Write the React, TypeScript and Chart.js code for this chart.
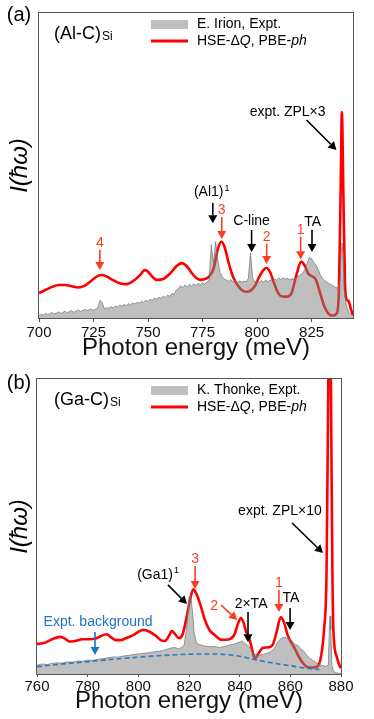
import React, { useEffect, useRef } from "react";
import Chart from "chart.js/auto";

const FONT = "'Liberation Sans', Arial, sans-serif";
const RED = "#ff0000";
const NOTE_RED = "#ff3b1d";
const BLUE = "#1f74c4";
const FRAME = "#555555";

// ---------------- Panel (a): (Al-C)Si ----------------
const aExptEnergy = [
  700, 701, 702, 703, 704, 705, 706, 707, 708, 709, 710, 711, 712, 713, 714, 715, 716, 717, 718, 719,
  720, 721, 722, 723, 724, 725, 726, 727, 728, 729, 730, 731, 732, 733, 734, 735, 736, 737, 738, 739,
  740, 741, 742, 743, 744, 745, 746, 747, 748, 749, 750, 751, 752, 753, 754, 755, 756, 757, 758, 759,
  760, 761, 762, 763, 764, 765, 766, 767, 768, 769, 770, 771, 772, 773, 774, 775, 776, 777, 778, 779,
  780, 781, 782, 783, 784, 785, 786, 787, 788, 789, 790, 791, 792, 793, 794, 795, 796, 797, 798, 799,
  800, 801, 802, 803, 804, 805, 806, 807, 808, 809, 810, 811, 812, 813, 814, 815, 816, 817, 818, 819,
  820, 821, 822, 823, 824, 825, 826, 827, 828, 829, 830, 831, 832, 833, 834, 835, 836, 837, 838, 838.5,
  839, 839.5, 840, 841, 842, 843, 844,
];
const aExptIntensity = [
  0.008, 0.012, 0.010, 0.015, 0.011, 0.014, 0.018, 0.013, 0.016, 0.020, 0.015, 0.019, 0.022, 0.017, 0.021, 0.024, 0.019, 0.023, 0.026, 0.021,
  0.025, 0.028, 0.024, 0.027, 0.030, 0.025, 0.029, 0.034, 0.058, 0.050, 0.030, 0.034, 0.031, 0.037, 0.033, 0.039, 0.036, 0.042, 0.038, 0.044,
  0.040, 0.047, 0.043, 0.049, 0.046, 0.052, 0.048, 0.055, 0.051, 0.058, 0.054, 0.062, 0.057, 0.065, 0.061, 0.068, 0.064, 0.072, 0.067, 0.075,
  0.071, 0.080, 0.078, 0.092, 0.098, 0.105, 0.100, 0.108, 0.102, 0.110, 0.104, 0.112, 0.106, 0.114, 0.108, 0.116, 0.110, 0.118, 0.125, 0.240,
  0.180, 0.250, 0.190, 0.150, 0.135, 0.128, 0.124, 0.120, 0.126, 0.118, 0.124, 0.116, 0.122, 0.117, 0.121, 0.118, 0.130, 0.213, 0.130, 0.118,
  0.122, 0.117, 0.123, 0.118, 0.124, 0.119, 0.125, 0.121, 0.128, 0.124, 0.131, 0.126, 0.132, 0.127, 0.130, 0.125, 0.129, 0.126, 0.132, 0.138,
  0.142, 0.148, 0.160, 0.180, 0.198, 0.195, 0.182, 0.175, 0.160, 0.142, 0.130, 0.122, 0.118, 0.112, 0.110, 0.105, 0.100, 0.098, 0.120, 0.200,
  0.246, 0.200, 0.090, 0.040, 0.020, 0.012, 0.008,
];
const aCalcEnergy = [
  700, 703, 706, 709, 712, 715, 718, 721, 724, 727, 729, 731, 734, 737, 740, 743, 746, 748.5, 750, 752,
  754, 757, 760, 763, 765.5, 768, 770, 772, 774, 776, 778, 780, 782, 783.5, 785, 787, 789, 791, 793, 795,
  797, 799, 801, 803, 804.4, 806, 808, 810, 812, 814, 816, 818, 820.3, 822, 823.5, 825, 827, 829, 831, 833,
  835, 836.5, 837.5, 838.3, 838.9, 839.6, 840.3, 841, 842, 843, 844,
];
const aCalcIntensity = [
  0.082, 0.092, 0.102, 0.108, 0.108, 0.104, 0.100, 0.106, 0.122, 0.138, 0.141, 0.136, 0.124, 0.114, 0.111, 0.120, 0.138, 0.157, 0.152, 0.135,
  0.125, 0.128, 0.145, 0.170, 0.180, 0.168, 0.148, 0.132, 0.125, 0.128, 0.136, 0.160, 0.225, 0.250, 0.235, 0.180, 0.135, 0.108, 0.092, 0.086,
  0.090, 0.105, 0.135, 0.158, 0.164, 0.150, 0.110, 0.078, 0.070, 0.070, 0.085, 0.140, 0.185, 0.170, 0.145, 0.138, 0.125, 0.080, 0.035, 0.012,
  0.008, 0.015, 0.080, 0.400, 0.675, 0.400, 0.120, 0.062, 0.055, 0.030, 0.010,
];

// ---------------- Panel (b): (Ga-C)Si ----------------
const bExptEnergy = [
  760, 762, 764, 766, 768, 770, 772, 774, 776, 778, 780, 782, 784, 786, 788, 790, 792, 794, 796, 798,
  800, 802, 804, 806, 808, 810, 812, 814, 815, 816, 817, 818, 819, 820, 820.7, 821.5, 822, 823, 824, 826,
  828, 830, 832, 834, 836, 838, 840, 841, 842, 843, 844, 845, 846, 848, 850, 852, 854, 855, 856, 857,
  858, 859, 860, 861, 862, 863, 864, 865, 866, 867, 868, 869, 870, 871, 872, 873, 874, 875, 875.4, 875.7,
  876, 876.4, 877, 878, 880,
];
const bExptIntensity = [
  0.030, 0.034, 0.032, 0.036, 0.038, 0.037, 0.041, 0.040, 0.044, 0.043, 0.047, 0.046, 0.050, 0.052, 0.055, 0.058, 0.057, 0.061, 0.063, 0.066,
  0.068, 0.070, 0.072, 0.075, 0.077, 0.080, 0.086, 0.090, 0.088, 0.085, 0.090, 0.095, 0.150, 0.262, 0.268, 0.200, 0.140, 0.105, 0.100, 0.095,
  0.092, 0.093, 0.090, 0.093, 0.098, 0.102, 0.108, 0.112, 0.104, 0.098, 0.090, 0.075, 0.066, 0.064, 0.068, 0.074, 0.090, 0.108, 0.118, 0.125,
  0.124, 0.120, 0.118, 0.108, 0.100, 0.097, 0.085, 0.080, 0.070, 0.058, 0.052, 0.045, 0.040, 0.034, 0.030, 0.028, 0.026, 0.030, 0.150, 0.197,
  0.150, 0.030, 0.010, 0.004, 0.002,
];
const bCalcEnergy = [
  760, 763, 766, 769, 771, 773, 775, 778, 781, 783, 785, 787.5, 789, 791, 793, 795, 798, 801.8, 804, 807,
  809, 810.5, 812, 813.2, 814.5, 816, 817.5, 819, 820.5, 821.7, 823, 824.3, 826.3, 828, 830, 833, 836, 838, 839.5, 840.5,
  841.5, 842.5, 844, 845, 846, 847.5, 849, 851, 853, 854.5, 856.2, 857.5, 859, 861.5, 864.5, 867, 869, 871, 872.5, 873.3,
  874.3, 875, 875.5, 876, 876.6, 877, 878.3, 879.6, 880,
];
const bCalcIntensity = [
  0.102, 0.106, 0.118, 0.126, 0.120, 0.110, 0.112, 0.118, 0.118, 0.120, 0.128, 0.135, 0.126, 0.115, 0.115, 0.121, 0.132, 0.149, 0.145, 0.129,
  0.114, 0.112, 0.128, 0.146, 0.135, 0.122, 0.135, 0.190, 0.255, 0.287, 0.270, 0.240, 0.183, 0.150, 0.133, 0.116, 0.118, 0.135, 0.175, 0.190,
  0.175, 0.145, 0.115, 0.080, 0.053, 0.070, 0.088, 0.090, 0.098, 0.140, 0.192, 0.175, 0.130, 0.090, 0.042, 0.023, 0.022, 0.028, 0.080, 0.150,
  0.350, 1.000, 1.500, 1.000, 0.350, 0.149, 0.059, 0.025, 0.020,
];
const bBackgroundEnergy = [760, 770, 780, 790, 800, 810, 820, 830, 840, 846, 850, 856, 860, 866, 871.5];
const bBackgroundIntensity = [0.025, 0.034, 0.042, 0.050, 0.057, 0.063, 0.067, 0.068, 0.060, 0.049, 0.042, 0.033, 0.028, 0.020, 0.015];

const aTicks = { min: 700, max: 844, step: 25 };
const bTicks = { min: 760, max: 880, step: 20 };

type Note = { text: string; sup?: string; x: number; y: number; color: string };
type Arrow = { x1: number; y1: number; x2: number; y2: number; color: string };

const aNotes: Note[] = [
  { text: "4", x: 727.9, y: 0.246, color: NOTE_RED },
  { text: "(Al1)", sup: "1", x: 779.2, y: 0.413, color: "#000" },
  { text: "3", x: 783.8, y: 0.354, color: NOTE_RED },
  { text: "C-line", x: 797.5, y: 0.318, color: "#000" },
  { text: "2", x: 804.4, y: 0.266, color: NOTE_RED },
  { text: "1", x: 820.0, y: 0.289, color: NOTE_RED },
  { text: "TA", x: 825.5, y: 0.315, color: "#000" },
  { text: "expt. ZPL×3", x: 814.0, y: 0.675, color: "#000" },
];
const aArrows: Arrow[] = [
  { x1: 727.9, y1: 0.223, x2: 727.9, y2: 0.157, color: NOTE_RED },
  { x1: 779.7, y1: 0.377, x2: 779.7, y2: 0.311, color: "#000" },
  { x1: 783.8, y1: 0.331, x2: 783.8, y2: 0.259, color: NOTE_RED },
  { x1: 797.5, y1: 0.289, x2: 797.5, y2: 0.216, color: "#000" },
  { x1: 804.4, y1: 0.243, x2: 804.4, y2: 0.177, color: NOTE_RED },
  { x1: 820.0, y1: 0.266, x2: 820.0, y2: 0.193, color: NOTE_RED },
  { x1: 825.2, y1: 0.289, x2: 825.2, y2: 0.216, color: "#000" },
  { x1: 822.7, y1: 0.649, x2: 836.4, y2: 0.551, color: "#000" },
];
const bNotes: Note[] = [
  { text: "expt. ZPL×10", x: 855.9, y: 0.553, color: "#000" },
  { text: "(Ga1)", sup: "1", x: 807.8, y: 0.336, color: "#000" },
  { text: "3", x: 822.4, y: 0.39, color: NOTE_RED },
  { text: "2", x: 829.9, y: 0.231, color: NOTE_RED },
  { text: "2×TA", x: 844.5, y: 0.237, color: "#000" },
  { text: "1", x: 855.5, y: 0.308, color: NOTE_RED },
  { text: "TA", x: 860.2, y: 0.258, color: "#000" },
  { text: "Expt. background", x: 784.1, y: 0.176, color: BLUE },
];
const bArrows: Arrow[] = [
  { x1: 860.7, y1: 0.512, x2: 872.9, y2: 0.41, color: "#000" },
  { x1: 811.7, y1: 0.302, x2: 819.2, y2: 0.237, color: "#000" },
  { x1: 822.4, y1: 0.366, x2: 822.4, y2: 0.288, color: NOTE_RED },
  { x1: 832.6, y1: 0.234, x2: 839.0, y2: 0.183, color: NOTE_RED },
  { x1: 843.3, y1: 0.21, x2: 843.3, y2: 0.108, color: "#000" },
  { x1: 855.5, y1: 0.285, x2: 855.5, y2: 0.21, color: NOTE_RED },
  { x1: 859.9, y1: 0.224, x2: 859.9, y2: 0.149, color: "#000" },
  { x1: 782.9, y1: 0.142, x2: 782.9, y2: 0.064, color: BLUE },
];

type Panel = {
  tag: string;
  tagY: number;
  material: string;
  materialY: number;
  legendExpt: string;
  legendY1: number;
  legendY2: number;
  notes: Note[];
  arrows: Arrow[];
};

function drawArrow(ctx: CanvasRenderingContext2D, x1: number, y1: number, x2: number, y2: number, color: string) {
  const ang = Math.atan2(y2 - y1, x2 - x1);
  const hl = 8;
  const hw = 4.5;
  const bx = x2 - hl * Math.cos(ang);
  const by = y2 - hl * Math.sin(ang);
  ctx.save();
  ctx.strokeStyle = color;
  ctx.fillStyle = color;
  ctx.lineWidth = 1.6;
  ctx.beginPath();
  ctx.moveTo(x1, y1);
  ctx.lineTo(bx, by);
  ctx.stroke();
  ctx.beginPath();
  ctx.moveTo(x2, y2);
  ctx.lineTo(bx + hw * Math.sin(ang), by - hw * Math.cos(ang));
  ctx.lineTo(bx - hw * Math.sin(ang), by + hw * Math.cos(ang));
  ctx.closePath();
  ctx.fill();
  ctx.restore();
}

function makeOverlay(p: Panel) {
  return {
    id: "overlay",
    afterDraw(chart: any) {
      const ctx: CanvasRenderingContext2D = chart.ctx;
      const { left, right, top, bottom } = chart.chartArea;
      const xs = chart.scales.x;
      const ys = chart.scales.y;
      ctx.save();
      ctx.strokeStyle = FRAME;
      ctx.lineWidth = 1;
      ctx.strokeRect(left - 0.5, top - 0.5, right - left + 1, bottom - top + 1);

      for (const a of p.arrows) {
        drawArrow(ctx, xs.getPixelForValue(a.x1), ys.getPixelForValue(a.y1), xs.getPixelForValue(a.x2), ys.getPixelForValue(a.y2), a.color);
      }
      ctx.textBaseline = "middle";
      for (const n of p.notes) {
        const px = xs.getPixelForValue(n.x);
        const py = ys.getPixelForValue(n.y);
        ctx.fillStyle = n.color;
        ctx.font = `14px ${FONT}`;
        const w = ctx.measureText(n.text).width;
        let sw = 0;
        if (n.sup) {
          ctx.font = `9px ${FONT}`;
          sw = ctx.measureText(n.sup).width + 1;
        }
        const x0 = px - (w + sw) / 2;
        ctx.font = `14px ${FONT}`;
        ctx.textAlign = "left";
        ctx.fillText(n.text, x0, py);
        if (n.sup) {
          ctx.font = `9px ${FONT}`;
          ctx.fillText(n.sup, x0 + w + 1, py - 4);
        }
      }

      ctx.fillStyle = "#000";
      ctx.textAlign = "center";
      ctx.font = `20px ${FONT}`;
      ctx.fillText(p.tag, 19, p.tagY);

      ctx.textAlign = "left";
      ctx.textBaseline = "alphabetic";
      ctx.font = `18px ${FONT}`;
      const mBase = p.materialY + 6;
      ctx.fillText(p.material, 54, mBase);
      const mw = ctx.measureText(p.material).width;
      ctx.font = `12px ${FONT}`;
      ctx.fillText("Si", 54 + mw + 1, mBase + 1);

      ctx.fillStyle = "rgba(128,128,128,0.5)";
      ctx.fillRect(151, p.legendY1 - 4.5, 37, 9);
      ctx.strokeStyle = RED;
      ctx.lineWidth = 3;
      ctx.beginPath();
      ctx.moveTo(151, p.legendY2);
      ctx.lineTo(188, p.legendY2);
      ctx.stroke();
      ctx.fillStyle = "#000";
      ctx.textBaseline = "middle";
      ctx.font = `14px ${FONT}`;
      ctx.fillText(p.legendExpt, 197, p.legendY1);
      const segs = [
        { t: "HSE-Δ", i: false },
        { t: "Q", i: true },
        { t: ", PBE-", i: false },
        { t: "ph", i: true },
      ];
      let lx = 197;
      for (const s of segs) {
        ctx.font = `${s.i ? "italic " : ""}14px ${FONT}`;
        ctx.fillText(s.t, lx, p.legendY2);
        lx += ctx.measureText(s.t).width;
      }

      ctx.save();
      ctx.translate(20, (top + bottom) / 2);
      ctx.rotate(-Math.PI / 2);
      ctx.textAlign = "center";
      ctx.textBaseline = "middle";
      ctx.font = `italic 24px ${FONT}`;
      ctx.fillText("I(ħω)", 0, 0);
      ctx.restore();

      ctx.restore();
    },
  };
}

function buildConfig(
  exptE: number[], exptI: number[], calcE: number[], calcI: number[],
  ticks: { min: number; max: number; step: number },
  pad: { left: number; right: number; top: number },
  axisH: number, tickLen: number, tickPad: number, titlePad: number,
  panel: Panel, bgE?: number[], bgI?: number[],
) {
  const datasets: any[] = [];
  if (bgE && bgI) {
    datasets.push({
      data: bgE.map((x, i) => ({ x, y: bgI[i] })),
      borderColor: "#2b7bbf",
      borderWidth: 1.6,
      borderDash: [5, 3],
      pointRadius: 0,
      fill: false,
      cubicInterpolationMode: "monotone",
    });
  }
  datasets.push({
    data: exptE.map((x, i) => ({ x, y: exptI[i] })),
    borderColor: "rgba(110,110,110,0.85)",
    borderWidth: 0.8,
    backgroundColor: "rgba(128,128,128,0.5)",
    fill: "origin",
    pointRadius: 0,
    tension: 0,
  });
  datasets.push({
    data: calcE.map((x, i) => ({ x, y: calcI[i] })),
    borderColor: RED,
    borderWidth: 2.6,
    fill: false,
    pointRadius: 0,
    cubicInterpolationMode: "monotone",
  });
  return {
    type: "line",
    data: { datasets },
    options: {
      responsive: false,
      animation: false,
      events: [],
      layout: { padding: { left: pad.left, right: pad.right, top: pad.top, bottom: 0 } },
      plugins: { legend: { display: false }, tooltip: { enabled: false } },
      scales: {
        x: {
          type: "linear",
          min: ticks.min,
          max: ticks.max,
          ticks: {
            stepSize: ticks.step,
            includeBounds: false,
            autoSkip: false,
            maxRotation: 0,
            padding: tickPad,
            color: "#111",
            font: { family: FONT, size: 15 },
          },
          grid: { drawOnChartArea: false, drawTicks: true, tickLength: tickLen, color: FRAME },
          border: { display: false },
          title: {
            display: true,
            text: "Photon energy (meV)",
            color: "#111",
            font: { family: FONT, size: 24, lineHeight: 1 },
            padding: { top: 0, bottom: titlePad },
          },
          afterFit: (s: any) => {
            s.height = axisH;
          },
        },
        y: {
          min: 0,
          max: 1,
          ticks: { display: false },
          grid: { display: false },
          border: { display: false },
          afterFit: (s: any) => {
            s.width = 0;
          },
        },
      },
    },
    plugins: [makeOverlay(panel)],
  } as any;
}

const panelA: Panel = {
  tag: "(a)",
  tagY: 15,
  material: "(Al-C)",
  materialY: 33,
  legendExpt: "E. Irion, Expt.",
  legendY1: 24.5,
  legendY2: 41,
  notes: aNotes,
  arrows: aArrows,
};
const panelB: Panel = {
  tag: "(b)",
  tagY: 23,
  material: "(Ga-C)",
  materialY: 38.5,
  legendExpt: "K. Thonke, Expt.",
  legendY1: 30.5,
  legendY2: 47,
  notes: bNotes,
  arrows: bArrows,
};

export default function App() {
  const refA = useRef<HTMLCanvasElement | null>(null);
  const refB = useRef<HTMLCanvasElement | null>(null);

  useEffect(() => {
    const ca = new Chart(
      refA.current as HTMLCanvasElement,
      buildConfig(aExptEnergy, aExptIntensity, aCalcEnergy, aCalcIntensity, aTicks, { left: 39, right: 21, top: 13 }, 42, 4, 2, 0, panelA),
    );
    const cb = new Chart(
      refB.current as HTMLCanvasElement,
      buildConfig(bExptEnergy, bExptIntensity, bCalcEnergy, bCalcIntensity, bTicks, { left: 37, right: 33, top: 19 }, 45, 3, 1, 6, panelB, bBackgroundEnergy, bBackgroundIntensity),
    );
    return () => {
      ca.destroy();
      cb.destroy();
    };
  }, []);

  return (
    <div style={{ position: "absolute", left: 0, top: 0, width: 374, height: 719, background: "#fff" }}>
      <canvas ref={refA} width={374} height={360} style={{ position: "absolute", left: 0, top: 0, width: 374, height: 360 }} />
      <canvas ref={refB} width={374} height={359} style={{ position: "absolute", left: 0, top: 360, width: 374, height: 359 }} />
    </div>
  );
}
